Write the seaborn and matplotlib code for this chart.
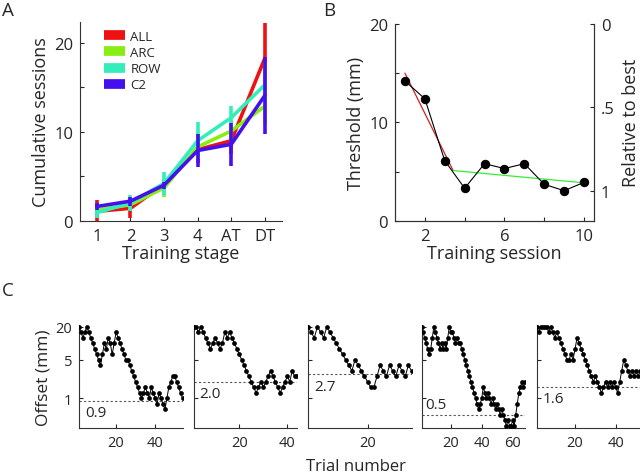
import numpy as np
import pandas as pd
import matplotlib
matplotlib.use('Agg')
import matplotlib.pyplot as plt
import seaborn as sns
from matplotlib.lines import Line2D
from matplotlib.ticker import FixedLocator, NullLocator, MultipleLocator

# ---- panel A: cumulative sessions per training stage
stages = ['1', '2', '3', '4', 'AT', 'DT']
groups = ['ALL', 'ARC', 'ROW', 'C2']
group_colors = ['#ee1111', '#88ee11', '#33eebb', '#4411ee']
sess_all = [1.05, 1.4, 4.1, 8.0, 9.0, 18.3]
sess_arc = [1.2, 1.8, 3.7, 8.3, 10.1, 12.9]
sess_row = [0.9, 2.0, 4.2, 9.0, 11.6, 15.3]
sess_c2 = [1.6, 2.2, 4.0, 7.9, 8.6, 14.1]
err_all = [1.3, 1.1, 0.5, 1.5, 1.5, 4.0]
err_arc = [0.5, 0.6, 1.0, 1.2, 1.2, 2.0]
err_row = [0.6, 0.9, 1.3, 2.1, 1.3, 2.5]
err_c2 = [0.4, 0.5, 0.4, 1.9, 2.4, 4.35]

# ---- panel B: threshold per training session
session = [1, 2, 3, 4, 5, 6, 7, 8, 9, 10]
threshold = [14.2, 12.4, 6.1, 3.3, 5.8, 5.3, 5.8, 3.7, 3.05, 3.9]
fit_fast_x = [1.0, 3.42]
fit_fast_y = [15.0, 5.1]
fit_slow_x = [3.42, 10.0]
fit_slow_y = [5.1, 3.85]

# ---- panel C: staircase runs, offset level per trial (level k -> 20 mm / 2^(k/3))
run1 = [0, 1, 2, 1, 0, 1, 2, 3, 4, 5, 6, 7, 5, 3, 4, 2, 3, 5, 3, 1,
        2, 3, 4, 5, 6, 6, 7, 8, 9, 10, 11, 12, 13, 12, 11, 12, 13, 11, 12, 13,
        14, 12, 13, 14, 15, 13, 11, 10, 9, 9, 10, 11, 12, 13]
run2 = [0, 0, 1, 0, 1, 2, 3, 4, 3, 2, 3, 4, 3, 1, 2, 1, 2, 3, 4, 5,
        6, 7, 8, 9, 10, 11, 12, 11, 10, 11, 10, 9, 8, 9, 10, 11, 12, 11, 10, 9,
        10, 8, 9, 9]
run3 = [0, 1, 2, 0, 1, 2, 0, 1, 2, 3, 4, 5, 6, 7, 8, 6, 7, 8, 9, 10,
        11, 11, 9, 7, 8, 9, 7, 8, 9, 7, 8, 9, 7, 8]
run4 = [0, 1, 2, 3, 4, 5, 4, 2, 0, 1, 2, 3, 4, 3, 4, 3, 4, 2, 0, 1,
        1, 2, 3, 2, 3, 3, 4, 5, 6, 7, 8, 9, 10, 11, 12, 13, 14, 15, 14, 13,
        11, 12, 13, 12, 13, 14, 13, 14, 15, 14, 15, 16, 15, 16, 17, 18, 17, 18, 18, 17,
        18, 16, 14, 12, 11, 10, 11, 10]
run5 = [0, 1, 0, 0, 0, 0, 1, 0, 1, 2, 1, 2, 3, 4, 5, 6, 6, 5, 6, 4,
        2, 3, 4, 5, 6, 7, 8, 9, 10, 9, 10, 11, 12, 11, 10, 11, 10, 11, 10, 11,
        12, 10, 8, 6, 7, 8, 9, 8, 9, 8, 9, 8]
runs = [run1, run2, run3, run4, run5]
run_thresholds = [0.9, 2.0, 2.7, 0.5, 1.6]
run_labels = ['0.9', '2.0', '2.7', '0.5', '1.6']

sns.set_style('ticks')
plt.rcParams['font.family'] = ['Open Sans', 'DejaVu Sans']
plt.rcParams['xtick.direction'] = 'in'
plt.rcParams['ytick.direction'] = 'in'
plt.rcParams['axes.linewidth'] = 0.8
plt.rcParams['xtick.major.width'] = 0.8
plt.rcParams['ytick.major.width'] = 0.8
plt.rcParams['xtick.major.size'] = 3
plt.rcParams['ytick.major.size'] = 3
plt.rcParams['axes.edgecolor'] = '#333333'

LAB = 13
TICK = 12

fig = plt.figure(figsize=(6.4, 4.77), dpi=100)
W, H = 640.0, 477.0


def px_axes(left, top, right, bottom):
    return fig.add_axes([left / W, 1 - bottom / H, (right - left) / W, (bottom - top) / H])


# ---------------- A
axA = px_axes(80, 22.7, 281.7, 221.7)
pos = np.arange(len(stages))
values = [sess_all, sess_arc, sess_row, sess_c2]
errors = [err_all, err_arc, err_row, err_c2]
dfA = pd.concat([pd.DataFrame({'pos': pos, 'sessions': v, 'group': g})
                 for g, v in zip(groups, values)])
for i, (g, col, err) in enumerate(zip(groups, group_colors, errors)):
    sub = dfA[dfA['group'] == g]
    sns.lineplot(data=sub, x='pos', y='sessions', color=col, lw=2.6, ax=axA,
                 zorder=3 + i, legend=False)
    axA.errorbar(sub['pos'], sub['sessions'], yerr=err, fmt='none', ecolor=col,
                 elinewidth=2.6, capsize=0, zorder=3 + i)
axA.set_xlim(-0.5, 5.5)
axA.set_ylim(0, 22.4)
axA.set_xticks(pos)
axA.set_xticklabels(stages)
axA.set_yticks([0, 5, 10, 15, 20])
axA.set_yticklabels(['0', '', '10', '', '20'])
axA.tick_params(labelsize=TICK, pad=5)
axA.set_xlabel('Training stage', fontsize=LAB, labelpad=0)
axA.set_ylabel('Cumulative sessions', fontsize=LAB, labelpad=3)
sns.despine(ax=axA)
handles = [Line2D([], [], color=c, lw=7, solid_capstyle='butt') for c in group_colors]
axA.legend(handles, groups, frameon=False, loc='upper left', bbox_to_anchor=(0.06, 1.02),
           fontsize=9.5, handlelength=1.6, handletextpad=0.4, labelspacing=0.25)

# ---------------- B
axB = px_axes(395, 25, 594, 221.7)
dfB = pd.DataFrame({'session': session, 'threshold': threshold})
sns.lineplot(data=dfB, x='session', y='threshold', color='black', lw=0.8,
             marker='o', markersize=6, markeredgecolor='black', ax=axB, zorder=3)
axB.plot(fit_fast_x, fit_fast_y, color='#cc2222', lw=0.9, zorder=2)
axB.plot(fit_slow_x, fit_slow_y, color='#33ee33', lw=0.9, zorder=2)
axB.set_xlim(0.5, 10.5)
axB.set_ylim(0, 20)
axB.set_xticks([2, 4, 6, 8, 10])
axB.set_xticklabels(['2', '', '6', '', '10'])
axB.set_yticks([0, 5, 10, 15, 20])
axB.set_yticklabels(['0', '', '10', '', '20'])
axB.tick_params(labelsize=TICK, pad=5)
axB.set_xlabel('Training session', fontsize=LAB, labelpad=0)
axB.set_ylabel('Threshold (mm)', fontsize=LAB, labelpad=3)
best = min(threshold)
axR = axB.twinx()
axR.set_ylim(20 / (20 - best), 0)
axR.set_yticks([0, 0.5, 1])
axR.set_yticklabels(['0', '.5', '1'])
axR.tick_params(labelsize=TICK, pad=5, direction='in')
axR.set_ylabel('Relative to best', fontsize=LAB, labelpad=5)
for a in (axB, axR):
    a.spines['top'].set_visible(False)
axB.spines['right'].set_visible(True)

# ---------------- C
lefts = [79, 193.5, 308, 421.5, 536.5]
for i, (run, thr, lab) in enumerate(zip(runs, run_thresholds, run_labels)):
    ax = px_axes(lefts[i], 326, lefts[i] + 103.5, 428.7)
    trials = np.arange(1, len(run) + 1)
    dfC = pd.DataFrame({'trial': trials, 'offset': 20 / 2 ** (np.array(run) / 3)})
    ax.set_yscale('log')
    sns.lineplot(data=dfC, x='trial', y='offset', color='black', lw=0.7,
                 marker='o', markersize=3.4, markeredgewidth=0, ax=ax, zorder=3)
    ax.axhline(thr, color='#555555', ls=(0, (2, 2)), lw=0.8, zorder=2)
    ax.set_xlim(1, len(run))
    ax.set_ylim(0.29, 21.5)
    ax.xaxis.set_major_locator(MultipleLocator(20))
    ax.yaxis.set_major_locator(FixedLocator([1, 5, 20]))
    ax.yaxis.set_minor_locator(NullLocator())
    ax.tick_params(labelsize=10.5, pad=5)
    if i == 0:
        ax.set_yticklabels(['1', '5', '20'])
        ax.set_ylabel('Offset (mm)', fontsize=12.5, labelpad=3)
    else:
        ax.set_yticklabels([])
        ax.set_ylabel('')
    ax.set_xlabel('')
    if thr < 0.7:
        ax.annotate(lab, xy=(0.04, thr), xycoords=('axes fraction', 'data'),
                    xytext=(0, 2), textcoords='offset points', va='bottom', fontsize=11)
    else:
        ax.annotate(lab, xy=(0.06, thr), xycoords=('axes fraction', 'data'),
                    xytext=(0, -3), textcoords='offset points', va='top', fontsize=11)
    sns.despine(ax=ax)

fig.text(356 / W, 1 - 467 / H, 'Trial number', fontsize=12, ha='center', va='center')
fig.text(2 / W, 1 - 11 / H, 'A', fontsize=13.5, va='center')
fig.text(323 / W, 1 - 11 / H, 'B', fontsize=13.5, va='center')
fig.text(2 / W, 1 - 291 / H, 'C', fontsize=13.5, va='center')

fig.savefig('out.png', dpi=100)
